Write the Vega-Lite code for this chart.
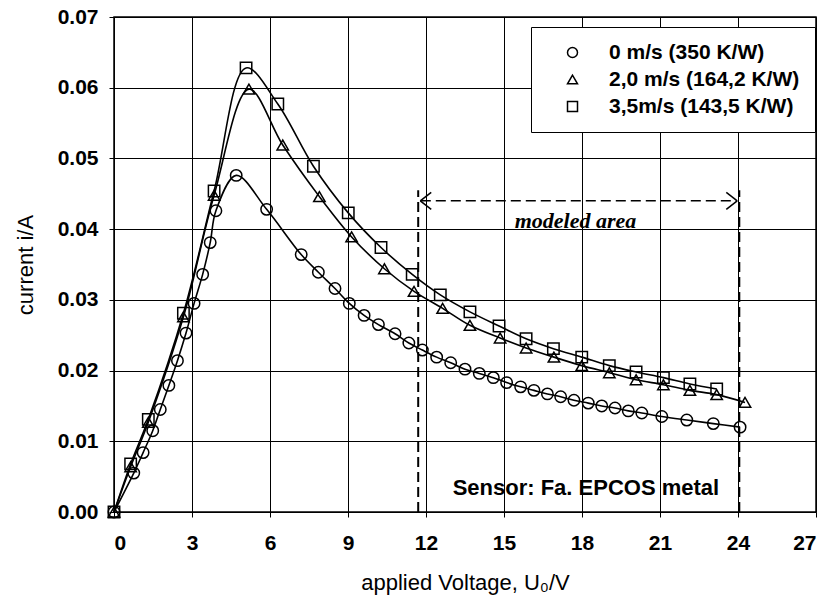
{
  "$schema": "https://vega.github.io/schema/vega-lite/v6.json",
  "width": 702,
  "height": 495,
  "autosize": "none",
  "padding": {"left": 114, "top": 17, "right": 15, "bottom": 90},
  "background": "white",
  "config": {
    "view": {"stroke": "black", "strokeWidth": 1.5},
    "font": "Liberation Sans",
    "axis": {
      "grid": true, "gridColor": "black", "gridWidth": 1, "gridOpacity": 1,
      "domain": false, "tickColor": "black", "tickSize": 5,
      "labelColor": "black", "titleColor": "black",
      "labelFont": "Liberation Sans", "titleFont": "Liberation Sans",
      "labelFontSize": 21, "labelFontWeight": "bold", "titleFontSize": 22, "titleFontWeight": "normal"
    }
  },
  "datasets": {
    "pts": [
      {"V": 0, "I": 0, "s": "0 m/s (350 K/W)"},
      {"V": 0.76, "I": 0.0055, "s": "0 m/s (350 K/W)"},
      {"V": 1.12, "I": 0.0084, "s": "0 m/s (350 K/W)"},
      {"V": 1.49, "I": 0.0115, "s": "0 m/s (350 K/W)"},
      {"V": 1.78, "I": 0.0145, "s": "0 m/s (350 K/W)"},
      {"V": 2.11, "I": 0.0179, "s": "0 m/s (350 K/W)"},
      {"V": 2.44, "I": 0.0214, "s": "0 m/s (350 K/W)"},
      {"V": 2.77, "I": 0.0253, "s": "0 m/s (350 K/W)"},
      {"V": 3.08, "I": 0.0295, "s": "0 m/s (350 K/W)"},
      {"V": 3.41, "I": 0.0336, "s": "0 m/s (350 K/W)"},
      {"V": 3.70, "I": 0.0381, "s": "0 m/s (350 K/W)"},
      {"V": 3.92, "I": 0.0426, "s": "0 m/s (350 K/W)"},
      {"V": 4.70, "I": 0.0476, "s": "0 m/s (350 K/W)"},
      {"V": 5.87, "I": 0.0428, "s": "0 m/s (350 K/W)"},
      {"V": 7.20, "I": 0.0364, "s": "0 m/s (350 K/W)"},
      {"V": 7.86, "I": 0.0339, "s": "0 m/s (350 K/W)"},
      {"V": 8.50, "I": 0.0316, "s": "0 m/s (350 K/W)"},
      {"V": 9.05, "I": 0.0295, "s": "0 m/s (350 K/W)"},
      {"V": 9.62, "I": 0.0278, "s": "0 m/s (350 K/W)"},
      {"V": 10.17, "I": 0.0265, "s": "0 m/s (350 K/W)"},
      {"V": 10.81, "I": 0.0252, "s": "0 m/s (350 K/W)"},
      {"V": 11.34, "I": 0.0239, "s": "0 m/s (350 K/W)"},
      {"V": 11.86, "I": 0.0229, "s": "0 m/s (350 K/W)"},
      {"V": 12.41, "I": 0.0219, "s": "0 m/s (350 K/W)"},
      {"V": 12.95, "I": 0.0211, "s": "0 m/s (350 K/W)"},
      {"V": 13.50, "I": 0.0202, "s": "0 m/s (350 K/W)"},
      {"V": 14.05, "I": 0.0196, "s": "0 m/s (350 K/W)"},
      {"V": 14.59, "I": 0.0190, "s": "0 m/s (350 K/W)"},
      {"V": 15.10, "I": 0.0183, "s": "0 m/s (350 K/W)"},
      {"V": 15.64, "I": 0.0177, "s": "0 m/s (350 K/W)"},
      {"V": 16.15, "I": 0.0172, "s": "0 m/s (350 K/W)"},
      {"V": 16.67, "I": 0.0167, "s": "0 m/s (350 K/W)"},
      {"V": 17.18, "I": 0.0163, "s": "0 m/s (350 K/W)"},
      {"V": 17.69, "I": 0.0158, "s": "0 m/s (350 K/W)"},
      {"V": 18.24, "I": 0.0154, "s": "0 m/s (350 K/W)"},
      {"V": 18.76, "I": 0.0150, "s": "0 m/s (350 K/W)"},
      {"V": 19.27, "I": 0.0147, "s": "0 m/s (350 K/W)"},
      {"V": 19.78, "I": 0.0143, "s": "0 m/s (350 K/W)"},
      {"V": 20.30, "I": 0.0140, "s": "0 m/s (350 K/W)"},
      {"V": 21.07, "I": 0.0135, "s": "0 m/s (350 K/W)"},
      {"V": 22.03, "I": 0.0130, "s": "0 m/s (350 K/W)"},
      {"V": 23.05, "I": 0.0125, "s": "0 m/s (350 K/W)"},
      {"V": 24.08, "I": 0.0120, "s": "0 m/s (350 K/W)"},
      {"V": 0, "I": 0, "s": "2,0 m/s (164,2 K/W)"},
      {"V": 0.64, "I": 0.0064, "s": "2,0 m/s (164,2 K/W)"},
      {"V": 1.32, "I": 0.0127, "s": "2,0 m/s (164,2 K/W)"},
      {"V": 2.67, "I": 0.0276, "s": "2,0 m/s (164,2 K/W)"},
      {"V": 3.85, "I": 0.0448, "s": "2,0 m/s (164,2 K/W)"},
      {"V": 5.19, "I": 0.0598, "s": "2,0 m/s (164,2 K/W)"},
      {"V": 6.49, "I": 0.0519, "s": "2,0 m/s (164,2 K/W)"},
      {"V": 7.90, "I": 0.0446, "s": "2,0 m/s (164,2 K/W)"},
      {"V": 9.14, "I": 0.0389, "s": "2,0 m/s (164,2 K/W)"},
      {"V": 10.40, "I": 0.0344, "s": "2,0 m/s (164,2 K/W)"},
      {"V": 11.54, "I": 0.0312, "s": "2,0 m/s (164,2 K/W)"},
      {"V": 12.64, "I": 0.0288, "s": "2,0 m/s (164,2 K/W)"},
      {"V": 13.69, "I": 0.0264, "s": "2,0 m/s (164,2 K/W)"},
      {"V": 14.85, "I": 0.0246, "s": "2,0 m/s (164,2 K/W)"},
      {"V": 15.85, "I": 0.0232, "s": "2,0 m/s (164,2 K/W)"},
      {"V": 16.92, "I": 0.0219, "s": "2,0 m/s (164,2 K/W)"},
      {"V": 17.99, "I": 0.0207, "s": "2,0 m/s (164,2 K/W)"},
      {"V": 19.05, "I": 0.0197, "s": "2,0 m/s (164,2 K/W)"},
      {"V": 20.08, "I": 0.0187, "s": "2,0 m/s (164,2 K/W)"},
      {"V": 21.13, "I": 0.0180, "s": "2,0 m/s (164,2 K/W)"},
      {"V": 22.15, "I": 0.0172, "s": "2,0 m/s (164,2 K/W)"},
      {"V": 23.18, "I": 0.0166, "s": "2,0 m/s (164,2 K/W)"},
      {"V": 24.27, "I": 0.0155, "s": "2,0 m/s (164,2 K/W)"},
      {"V": 0, "I": 0, "s": "3,5m/s (143,5 K/W)"},
      {"V": 0.64, "I": 0.0068, "s": "3,5m/s (143,5 K/W)"},
      {"V": 1.32, "I": 0.0131, "s": "3,5m/s (143,5 K/W)"},
      {"V": 2.67, "I": 0.0281, "s": "3,5m/s (143,5 K/W)"},
      {"V": 3.85, "I": 0.0454, "s": "3,5m/s (143,5 K/W)"},
      {"V": 5.08, "I": 0.0628, "s": "3,5m/s (143,5 K/W)"},
      {"V": 6.30, "I": 0.0577, "s": "3,5m/s (143,5 K/W)"},
      {"V": 7.67, "I": 0.0489, "s": "3,5m/s (143,5 K/W)"},
      {"V": 9.01, "I": 0.0423, "s": "3,5m/s (143,5 K/W)"},
      {"V": 10.27, "I": 0.0374, "s": "3,5m/s (143,5 K/W)"},
      {"V": 11.47, "I": 0.0336, "s": "3,5m/s (143,5 K/W)"},
      {"V": 12.55, "I": 0.0307, "s": "3,5m/s (143,5 K/W)"},
      {"V": 13.69, "I": 0.0283, "s": "3,5m/s (143,5 K/W)"},
      {"V": 14.81, "I": 0.0263, "s": "3,5m/s (143,5 K/W)"},
      {"V": 15.85, "I": 0.0245, "s": "3,5m/s (143,5 K/W)"},
      {"V": 16.90, "I": 0.0231, "s": "3,5m/s (143,5 K/W)"},
      {"V": 17.99, "I": 0.0219, "s": "3,5m/s (143,5 K/W)"},
      {"V": 19.05, "I": 0.0207, "s": "3,5m/s (143,5 K/W)"},
      {"V": 20.08, "I": 0.0198, "s": "3,5m/s (143,5 K/W)"},
      {"V": 21.13, "I": 0.0190, "s": "3,5m/s (143,5 K/W)"},
      {"V": 22.15, "I": 0.0181, "s": "3,5m/s (143,5 K/W)"},
      {"V": 23.18, "I": 0.0174, "s": "3,5m/s (143,5 K/W)"}
    ],
    "vlines": [
      {"x": 11.7, "y": 0, "y2": 0.0455},
      {"x": 24.05, "y": 0, "y2": 0.0455}
    ],
    "hline": [
      {"x": 11.8, "x2": 23.95, "y": 0.044}
    ],
    "arrows": [
      {"x": 11.78, "y": 0.044, "x2": 12.2, "y2": 0.0452},
      {"x": 11.78, "y": 0.044, "x2": 12.2, "y2": 0.0428},
      {"x": 23.97, "y": 0.044, "x2": 23.55, "y2": 0.0452},
      {"x": 23.97, "y": 0.044, "x2": 23.55, "y2": 0.0428}
    ],
    "labels": [
      {"x": 17.75, "y": 0.0411, "t": "modeled area", "k": "m"},
      {"x": 18.15, "y": 0.0034, "t": "Sensor: Fa. EPCOS metal", "k": "s"}
    ]
  },
  "layer": [
    {
      "data": {"name": "pts"},
      "mark": {"type": "line", "color": "black", "strokeWidth": 1.6, "interpolate": "catmull-rom"},
      "encoding": {
        "x": {"field": "V", "type": "quantitative",
              "scale": {"domain": [0, 27], "nice": false},
              "axis": {"values": [0, 3, 6, 9, 12, 15, 18, 21, 24, 27], "labelPadding": 15, "titlePadding": 19},
              "title": "applied Voltage, U₀/V"},
        "y": {"field": "I", "type": "quantitative",
              "scale": {"domain": [0, 0.07], "nice": false},
              "axis": {"values": [0, 0.01, 0.02, 0.03, 0.04, 0.05, 0.06, 0.07], "format": ".2f", "labelPadding": 11, "titlePadding": 20},
              "title": "current i/A"},
        "detail": {"field": "s", "type": "nominal"}
      }
    },
    {
      "data": {"name": "pts"},
      "mark": {"type": "point", "filled": false, "stroke": "black", "strokeWidth": 1.5, "size": 130, "opacity": 1},
      "encoding": {
        "x": {"field": "V", "type": "quantitative"},
        "y": {"field": "I", "type": "quantitative"},
        "shape": {"field": "s", "type": "nominal",
          "scale": {"domain": ["0 m/s (350 K/W)", "2,0 m/s (164,2 K/W)", "3,5m/s (143,5 K/W)"], "range": ["circle", "triangle-up", "square"]},
          "legend": {"title": null, "orient": "none", "legendX": 417, "legendY": 10,
            "strokeColor": "black", "fillColor": "white", "padding": 15,
            "symbolStrokeColor": "black", "symbolFillColor": "white", "symbolStrokeWidth": 1.5, "symbolSize": 100,
            "symbolOffset": 16,
            "labelFontSize": 21, "labelFontWeight": "bold", "labelColor": "black", "labelFont": "Liberation Sans", "labelOffset": 26, "rowPadding": 5, "labelLimit": 300}
        }
      }
    },
    {
      "data": {"name": "vlines"},
      "mark": {"type": "rule", "color": "black", "strokeWidth": 2, "strokeDash": [10, 5]},
      "encoding": {
        "x": {"field": "x", "type": "quantitative"},
        "y": {"field": "y", "type": "quantitative"},
        "y2": {"field": "y2"}
      }
    },
    {
      "data": {"name": "hline"},
      "mark": {"type": "rule", "color": "black", "strokeWidth": 1.5, "strokeDash": [10, 5]},
      "encoding": {
        "x": {"field": "x", "type": "quantitative"},
        "x2": {"field": "x2"},
        "y": {"field": "y", "type": "quantitative"}
      }
    },
    {
      "data": {"name": "arrows"},
      "mark": {"type": "rule", "color": "black", "strokeWidth": 1.5},
      "encoding": {
        "x": {"field": "x", "type": "quantitative"},
        "x2": {"field": "x2"},
        "y": {"field": "y", "type": "quantitative"},
        "y2": {"field": "y2"}
      }
    },
    {
      "data": {"name": "labels"},
      "transform": [{"filter": "datum.k == 'm'"}],
      "mark": {"type": "text", "font": "Liberation Serif", "fontStyle": "italic", "fontWeight": "bold", "fontSize": 22, "color": "black"},
      "encoding": {
        "x": {"field": "x", "type": "quantitative"},
        "y": {"field": "y", "type": "quantitative"},
        "text": {"field": "t"}
      }
    },
    {
      "data": {"name": "labels"},
      "transform": [{"filter": "datum.k == 's'"}],
      "mark": {"type": "text", "font": "Liberation Sans", "fontSize": 22, "fontWeight": "bold", "color": "black"},
      "encoding": {
        "x": {"field": "x", "type": "quantitative"},
        "y": {"field": "y", "type": "quantitative"},
        "text": {"field": "t"}
      }
    }
  ]
}
